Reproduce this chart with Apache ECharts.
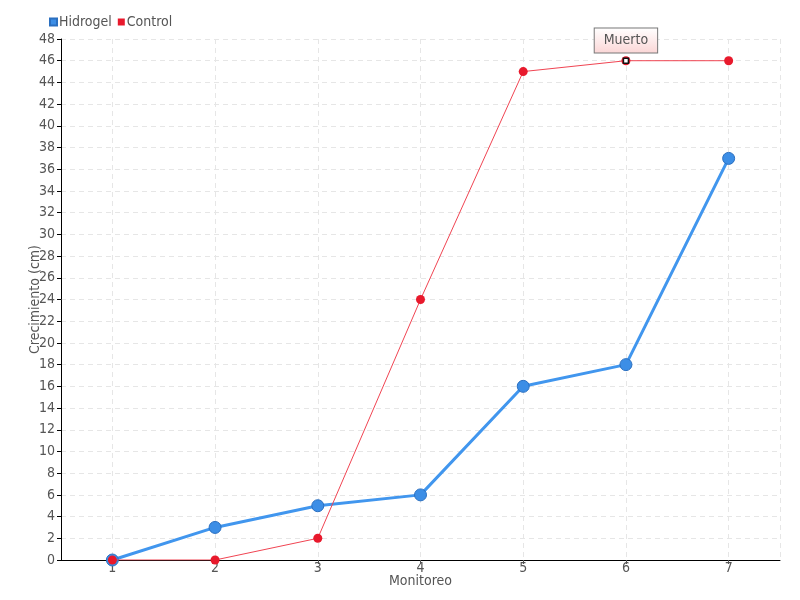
<!DOCTYPE html>
<html>
<head>
<meta charset="utf-8">
<script src="https://cdn.jsdelivr.net/npm/echarts@6/dist/echarts.min.js"></script>
<style>
html,body{margin:0;padding:0;background:#fff;}
#chart{width:800px;height:600px;}
</style>
</head>
<body>
<div id="chart"></div>
<script>
// datos del monitoreo
var monitoreo = [1, 2, 3, 4, 5, 6, 7];
var hidrogel = [0, 3, 5, 6, 16, 18, 37];
var control = [0, 0, 2, 24, 45, 46, 46];
var muertoIdx = 5; // punto marcado "Muerto"

var fuente = 'DejaVu Sans Condensed';
var myChart = echarts.init(document.getElementById('chart'));

var hData = monitoreo.map(function (m, i) { return [m, hidrogel[i]]; });
var cData = monitoreo.map(function (m, i) { return [m, control[i]]; });

var option = {
    animation: false,
    textStyle: { fontFamily: fuente },
    legend: {
        left: 44,
        top: 10,
        itemWidth: 7,
        itemHeight: 7,
        itemGap: 6,
        icon: 'rect',
        textStyle: { color: '#555', fontSize: 14, fontFamily: fuente, padding: [0, 0, 0, -3] },
        data: ['Hidrogel', 'Control']
    },
    grid: { left: 61, right: 20, top: 39, bottom: 40 },
    xAxis: {
        type: 'value',
        min: 0.5,
        max: 7.5,
        splitNumber: 7,
        name: 'Monitoreo',
        nameLocation: 'middle',
        nameGap: 14,
        nameMoveOverlap: false,
        nameTextStyle: { color: '#555', fontSize: 14, fontFamily: fuente },
        axisLine: { lineStyle: { color: '#000' } },
        axisTick: { show: true, length: 4, lineStyle: { color: '#555' } },
        axisLabel: {
            color: '#555', fontSize: 14, fontFamily: fuente, margin: 1,
            showMinLabel: false, showMaxLabel: false,
            formatter: function (v) { return Number.isInteger(v) ? String(v) : ''; }
        },
        splitLine: { show: true, lineStyle: { color: '#e6e6e6', type: [5, 4] } }
    },
    yAxis: {
        type: 'value',
        min: 0,
        max: 48,
        interval: 2,
        name: 'Crecimiento (cm)',
        nameLocation: 'middle',
        nameGap: 19,
        nameMoveOverlap: false,
        nameTextStyle: { color: '#555', fontSize: 14, fontFamily: fuente },
        axisLine: { show: true, lineStyle: { color: '#000' } },
        axisTick: { show: true, length: 4, lineStyle: { color: '#000' } },
        axisLabel: { color: '#555', fontSize: 14, fontFamily: fuente, margin: 6 },
        splitLine: { show: true, lineStyle: { color: '#e6e6e6', type: [5, 4] } }
    },
    series: [
        {
            name: 'Hidrogel',
            type: 'line',
            data: hData,
            symbol: 'circle',
            symbolSize: 12,
            z: 2,
            lineStyle: { color: '#4196ee', width: 3 },
            itemStyle: { color: '#3c8ee6', borderColor: '#2a6fc0', borderWidth: 1 }
        },
        {
            name: 'Control',
            type: 'line',
            data: cData,
            symbol: 'circle',
            symbolSize: 9,
            z: 3,
            lineStyle: { color: '#f04452', width: 1 },
            itemStyle: { color: '#e8192c' },
            markPoint: {
                data: [{
                    coord: cData[muertoIdx],
                    symbol: 'rect',
                    symbolSize: 5,
                    itemStyle: { color: '#fff', borderColor: '#111', borderWidth: 1.5 },
                    label: {
                        show: true,
                        position: 'top',
                        distance: 5,
                        formatter: 'Muerto',
                        color: '#555',
                        fontFamily: fuente,
                        fontSize: 14,
                        padding: [5, 9, 5, 9],
                        borderColor: '#777',
                        borderWidth: 1,
                        backgroundColor: new echarts.graphic.LinearGradient(0, 0, 0, 1, [
                            { offset: 0, color: '#fff' },
                            { offset: 1, color: '#fbd6d6' }
                        ])
                    }
                }]
            }
        }
    ]
};
myChart.setOption(option);
</script>
</body>
</html>
